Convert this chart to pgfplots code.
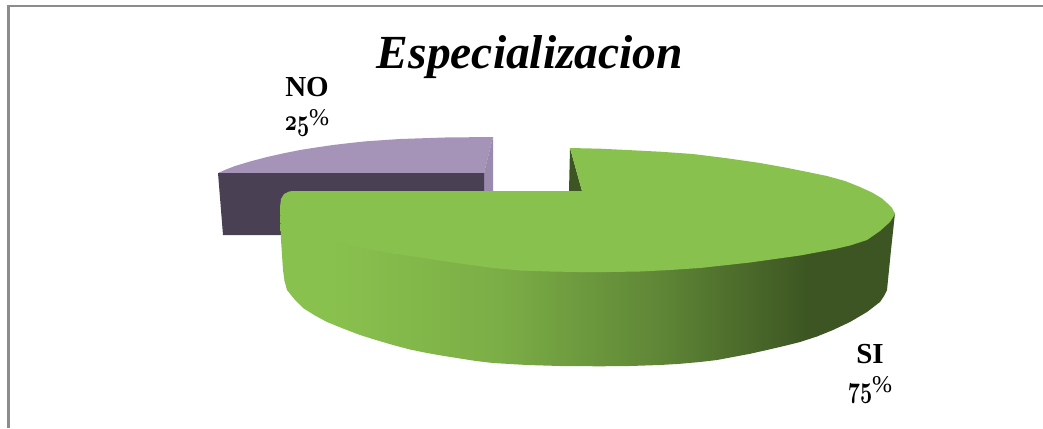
\documentclass[border=0pt]{standalone}
\usepackage{fontspec}
\usepackage{graphicx}
\setmainfont{Liberation Serif}
\usepackage{pgfplots}
\pgfplotsset{compat=1.18}
\definecolor{sigreen}{HTML}{89C14E}
\definecolor{sidark}{HTML}{3C5522}
\definecolor{nolight}{HTML}{A593B8}
\definecolor{noside}{HTML}{9A8AAD}
\definecolor{nodark}{HTML}{4A4054}
\definecolor{framegray}{HTML}{8C8C8C}
% side wall of the big slice, 25bp..75bp spans its bounding box
\pgfdeclarehorizontalshading{siwall}{100bp}{
  color(0bp)=(sigreen);
  color(29bp)=(sigreen);
  color(43bp)=(sigreen!82!sidark);
  color(56bp)=(sigreen!45!sidark);
  color(68bp)=(sidark);
  color(100bp)=(sidark)}
\newcommand{\osnum}[1]{\scalebox{0.85}[1.2]{\fontsize{32}{32}\fontencoding{OML}\fontfamily{cmm}\fontseries{b}\fontshape{it}\selectfont #1}}
\newcommand{\pct}{\raisebox{5pt}{\fontsize{24}{24}\mdseries\selectfont\%}}
\begin{document}
\begin{tikzpicture}
\begin{axis}[
    width=1043pt, height=428pt, scale only axis,
    xmin=0, xmax=1043, ymin=0, ymax=428,
    y dir=reverse,
    hide axis,
    clip=true,
]
% keeps the page as large as the axis
\addplot[draw=none] coordinates {(0,0) (1043,428)};
% frame
\addplot[framegray, line width=2.6pt] coordinates {(8.5,428) (8.5,6) (1043,6)};

% NO slice: top, cut face, front
\addplot[draw=none, fill=nolight] coordinates {
  (218,173) (226,169.5) (235,166) (250,161.5) (267,157) (285,153) (300,150) (316,147.5)
  (333,145) (350,143) (366,141.3) (400,139) (445,137.5) (493,137) (484,173)} --cycle;
\addplot[draw=none, fill=noside] coordinates {(493,137) (493,191) (484,191) (484,173)} --cycle;
\addplot[draw=none, fill=nodark] coordinates {(218,173) (484,173) (484,235) (223,235)} --cycle;

% SI slice: inner cut
\addplot[draw=none, fill=sidark] coordinates {(570,148) (582,191) (569,191)} --cycle;
% SI slice: wall
\addplot[draw=none, shading=siwall] coordinates {
  (280,207) (281,240) (283,270) (284.5,281) (287,290) (295,300) (303,308) (315,315.5) (327,322)
  (343,328.5) (360,335) (376,340) (393,345) (410,349.5) (427,353) (443,355.8) (460,358.5)
  (476,361) (493,363) (527,365) (560,366) (600,366.3) (630,366) (660,365) (680,363.8) (700,362)
  (717,360) (733,357) (750,353.8) (767,350) (784,346) (800,342) (817,336.5) (833,330) (850,322)
  (867,312) (880,302) (884,296) (887,290) (891,250) (895,213)} --cycle;
% SI slice: top
\addplot[draw=none, fill=sigreen] coordinates {
  (570,148) (600,148.7) (627,150) (660,151.7) (693,154) (725,158) (760,163) (785,167.5) (810,172.5)
  (827,176) (845,181) (860,187) (872,192.5) (882,198.5) (887,203) (892,208) (895,214)
  (890,222) (880,231) (867,240) (850,245.5) (835,249) (800,255.5) (750,262.5) (700,268) (670,270)
  (640,271.5) (610,272) (577,272) (550,271.5) (520,270.5) (493,268) (460,263.5) (427,258.5)
  (393,253.5) (360,247.5) (340,242) (327,238) (312,233) (300,228) (291,222.5) (285,216)
  (280,207) (281,199) (284,194) (289,191.5) (293,191) (582,191)} --cycle;

\node[anchor=base, font=\fontsize{47.5}{47.5}\selectfont\bfseries\itshape] at (axis cs:530,68) {Especializacion};
\node[anchor=base, font=\fontsize{29}{29}\selectfont\bfseries] at (axis cs:307,96) {NO};
\node[anchor=base, font=\fontsize{29}{29}\selectfont\bfseries] at (axis cs:307,130) {\osnum{25}\pct};
\node[anchor=base, font=\fontsize{29}{29}\selectfont\bfseries] at (axis cs:870,363) {SI};
\node[anchor=base, font=\fontsize{29}{29}\selectfont\bfseries] at (axis cs:870,397) {\osnum{75}\pct};
\end{axis}
\end{tikzpicture}
\end{document}
